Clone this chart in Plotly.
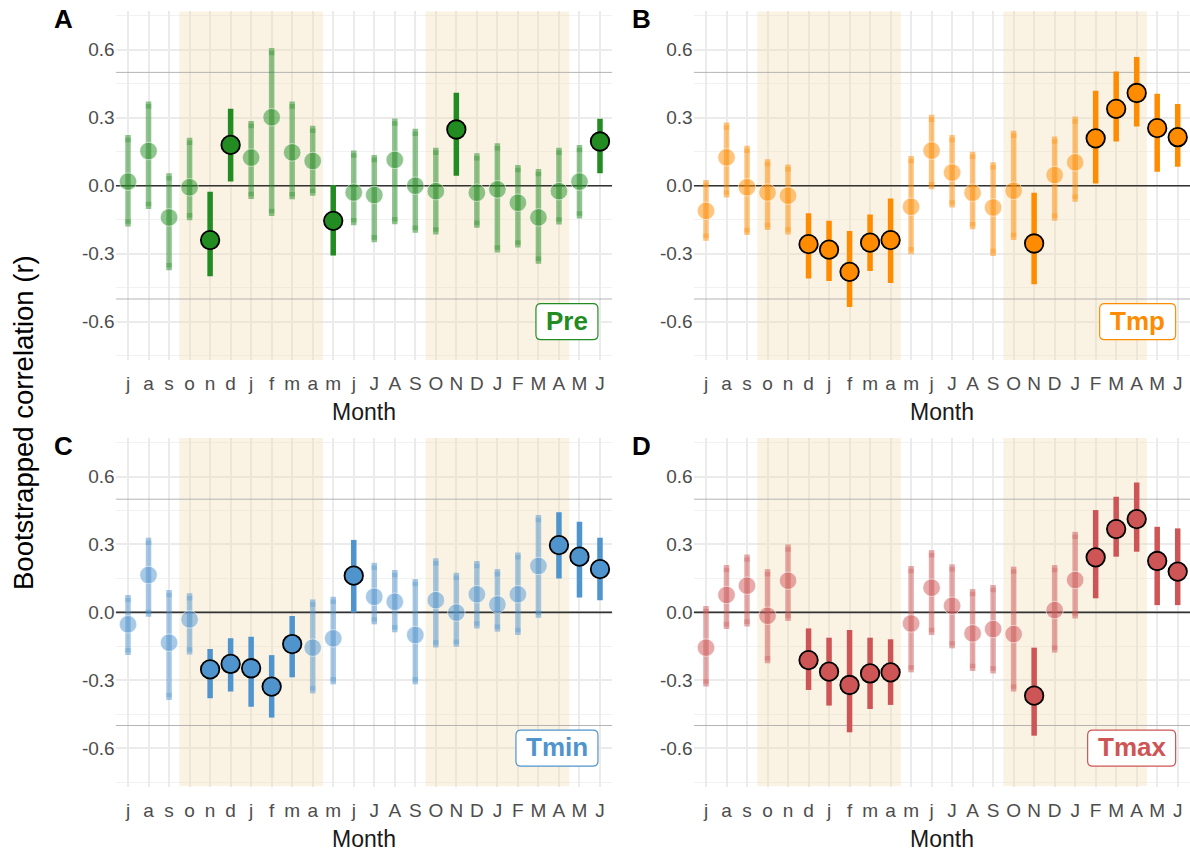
import plotly.graph_objects as go

months = ["j", "a", "s", "o", "n", "d", "j", "f", "m", "a", "m", "j",
          "J", "A", "S", "O", "N", "D", "J", "F", "M", "A", "M", "J"]
# growing seasons (first and last month index, inclusive): o..a and O..A
seasons = [(3, 9), (15, 21)]

pre_r = [0.018, 0.153, -0.14, -0.007, -0.24, 0.18, 0.124, 0.302, 0.147, 0.109, -0.155, -0.03,
         -0.041, 0.114, 0.0, -0.024, 0.248, -0.031, -0.016, -0.075, -0.14, -0.024, 0.018, 0.195]
pre_lo = [-0.18, -0.103, -0.373, -0.152, -0.40, 0.018, -0.059, -0.134, -0.06, -0.044, -0.308, -0.174,
          -0.25, -0.17, -0.208, -0.215, 0.044, -0.186, -0.295, -0.273, -0.344, -0.171, -0.145, 0.055]
pre_hi = [0.224, 0.372, 0.055, 0.212, -0.027, 0.339, 0.286, 0.608, 0.372, 0.264, 0.003, 0.155,
          0.136, 0.296, 0.251, 0.168, 0.41, 0.143, 0.187, 0.091, 0.074, 0.168, 0.18, 0.295]
pre_sig = [0, 0, 0, 0, 1, 1, 0, 0, 0, 0, 1, 0, 0, 0, 0, 0, 1, 0, 0, 0, 0, 0, 0, 1]

tmp_r = [-0.111, 0.125, -0.007, -0.03, -0.044, -0.258, -0.282, -0.38, -0.251, -0.24, -0.093, 0.155,
         0.058, -0.031, -0.096, -0.022, -0.255, 0.047, 0.103, 0.209, 0.339, 0.409, 0.254, 0.214]
tmp_lo = [-0.243, -0.052, -0.218, -0.196, -0.215, -0.41, -0.42, -0.535, -0.376, -0.429, -0.302, -0.016,
          -0.096, -0.192, -0.31, -0.24, -0.435, -0.155, -0.071, 0.01, 0.195, 0.261, 0.062, 0.084]
tmp_hi = [0.025, 0.279, 0.176, 0.117, 0.094, -0.122, -0.155, -0.2, -0.127, -0.056, 0.131, 0.313,
          0.224, 0.15, 0.103, 0.242, -0.031, 0.217, 0.305, 0.419, 0.504, 0.568, 0.406, 0.361]
tmp_sig = [0, 0, 0, 0, 0, 1, 1, 1, 1, 1, 0, 0, 0, 0, 0, 0, 1, 0, 0, 1, 1, 1, 1, 1]

tmin_r = [-0.053, 0.165, -0.134, -0.031, -0.252, -0.228, -0.247, -0.328, -0.14, -0.156, -0.115, 0.162,
          0.069, 0.047, -0.1, 0.054, -0.001, 0.08, 0.035, 0.08, 0.205, 0.297, 0.246, 0.191]
tmin_lo = [-0.189, -0.019, -0.387, -0.186, -0.38, -0.35, -0.417, -0.465, -0.287, -0.358, -0.318, -0.001,
           -0.053, -0.088, -0.318, -0.155, -0.152, -0.071, -0.085, -0.1, -0.024, 0.15, 0.066, 0.054]
tmin_hi = [0.077, 0.33, 0.099, 0.084, -0.162, -0.115, -0.108, -0.189, -0.016, 0.057, 0.069, 0.32,
           0.219, 0.187, 0.147, 0.239, 0.175, 0.227, 0.191, 0.265, 0.43, 0.442, 0.4, 0.33]
tmin_sig = [0, 0, 0, 0, 1, 1, 1, 1, 1, 0, 0, 1, 0, 0, 0, 0, 0, 0, 0, 0, 0, 1, 1, 1]

tmax_r = [-0.156, 0.077, 0.118, -0.015, 0.14, -0.211, -0.262, -0.321, -0.27, -0.265, -0.049, 0.109,
          0.029, -0.093, -0.074, -0.096, -0.368, 0.01, 0.143, 0.243, 0.368, 0.412, 0.227, 0.18]
tmax_lo = [-0.328, -0.074, -0.063, -0.225, -0.038, -0.343, -0.412, -0.53, -0.427, -0.409, -0.265, -0.1,
           -0.159, -0.259, -0.27, -0.35, -0.545, -0.178, -0.027, 0.062, 0.246, 0.268, 0.032, 0.032]
tmax_hi = [0.028, 0.209, 0.256, 0.191, 0.3, -0.071, -0.112, -0.078, -0.112, -0.119, 0.205, 0.275,
           0.212, 0.103, 0.121, 0.202, -0.156, 0.209, 0.356, 0.452, 0.511, 0.574, 0.378, 0.371]
tmax_sig = [0, 0, 0, 0, 0, 1, 1, 1, 1, 1, 0, 0, 0, 0, 0, 0, 1, 0, 0, 1, 1, 1, 1, 1]

panels = [
    dict(name="Pre", letter="A", color=(34, 139, 34), r=pre_r, lo=pre_lo, hi=pre_hi, sig=pre_sig),
    dict(name="Tmp", letter="B", color=(255, 140, 0), r=tmp_r, lo=tmp_lo, hi=tmp_hi, sig=tmp_sig),
    dict(name="Tmin", letter="C", color=(79, 148, 205), r=tmin_r, lo=tmin_lo, hi=tmin_hi, sig=tmin_sig),
    dict(name="Tmax", letter="D", color=(205, 85, 85), r=tmax_r, lo=tmax_lo, hi=tmax_hi, sig=tmax_sig),
]

W, H = 1190, 854
x_domains = [[115.7 / W, 612.3 / W], [693.7 / W, 1.0]]
y_px = [(11.2, 360.2), (438.1, 786.6)]
y_domains = [[1 - b / H, 1 - t / H] for t, b in y_px]
YR = [-0.77, 0.77]
XR = [-0.6, len(months) - 0.4]

FONT = "Liberation Sans, Arial, Helvetica, sans-serif"
fig = go.Figure()
xs = list(range(len(months)))


def rgba(c, a):
    return f"rgba({c[0]},{c[1]},{c[2]},{a})"


for k, p in enumerate(panels):
    ax = "" if k == 0 else str(k + 1)
    xref, yref = "x" + ax, "y" + ax
    c = p["color"]
    col, row = k % 2, k // 2
    common = dict(xaxis=xref, yaxis=yref, hoverinfo="skip", showlegend=False)

    # growing season shading (drawn above the grid, below the data)
    for s0, s1 in seasons:
        fig.add_trace(go.Scatter(x=[s0 - 0.5, s1 + 0.5, s1 + 0.5, s0 - 0.5, s0 - 0.5],
                                 y=[YR[0], YR[0], YR[1], YR[1], YR[0]], mode="lines", fill="toself",
                                 fillcolor="rgba(240,222,180,0.36)", line=dict(width=0), **common))
    # reference lines
    for yv, lc, lw in [(0.5, "#ABABAB", 0.9), (-0.5, "#ABABAB", 0.9), (0.0, "#333333", 1.6)]:
        fig.add_trace(go.Scatter(x=XR, y=[yv, yv], mode="lines", line=dict(color=lc, width=lw), **common))

    lx, ly, bx, by, sx, sy = [], [], [], [], [], []
    for i in xs:
        if p["sig"][i]:
            sx += [i, i, None]
            sy += [p["lo"][i], p["hi"][i], None]
        else:
            lx += [i, i, None]
            ly += [p["lo"][i], p["hi"][i], None]
            bx += [i, i, None, i, i, None]
            by += [p["hi"][i] - 0.012, p["hi"][i] - 0.032, None,
                   p["lo"][i] + 0.012, p["lo"][i] + 0.032, None]
    fig.add_trace(go.Scatter(x=lx, y=ly, mode="lines", line=dict(color=rgba(c, 0.5), width=5.5), **common))
    fig.add_trace(go.Scatter(x=bx, y=by, mode="lines", line=dict(color=rgba(c, 0.35), width=5.5), **common))
    fig.add_trace(go.Scatter(x=sx, y=sy, mode="lines", line=dict(color=rgba(c, 1), width=5.5), **common))
    nx = [i for i in xs if not p["sig"][i]]
    fig.add_trace(go.Scatter(x=nx, y=[p["r"][i] for i in nx], mode="markers",
                             marker=dict(size=17.5, color=rgba(c, 0.5),
                                         line=dict(color="rgba(255,255,255,0.55)", width=1)), **common))
    sxx = [i for i in xs if p["sig"][i]]
    fig.add_trace(go.Scatter(x=sxx, y=[p["r"][i] for i in sxx], mode="markers",
                             marker=dict(size=18.5, color=rgba(c, 1), line=dict(color="black", width=1.8)),
                             **common))

    xa = dict(domain=x_domains[col], anchor=yref, range=XR, tickmode="array",
              tickvals=xs, ticktext=months, showgrid=True, gridcolor="#EBEBEB", gridwidth=1.6,
              zeroline=False, showline=False, ticks="", ticklabelstandoff=10,
              tickfont=dict(family=FONT, size=19, color="#4D4D4D"))
    ya = dict(domain=y_domains[row], anchor=xref, range=YR, tickmode="array",
              tickvals=[-0.6, -0.3, 0, 0.3, 0.6], ticktext=["-0.6", "-0.3", "0.0", "0.3", "0.6"],
              showgrid=True, gridcolor="#EBEBEB", gridwidth=1.6, zeroline=False, showline=False,
              ticks="", ticklabelstandoff=0,
              tickfont=dict(family=FONT, size=19, color="#4D4D4D"),
              minor=dict(tickmode="array", tickvals=[-0.75, -0.45, -0.15, 0.15, 0.45, 0.75],
                         showgrid=True, gridcolor="#F1F1F1", gridwidth=0.9))
    fig.layout["xaxis" + ax] = xa
    fig.layout["yaxis" + ax] = ya

    # variable label box with rounded corners
    c_hex = rgba(c, 1)
    bw = {"Pre": 62, "Tmp": 76, "Tmin": 82, "Tmax": 88}[p["name"]]
    rr = 5
    path = (f"M {-bw + rr},-18 L {-rr},-18 Q 0,-18 0,{-18 + rr} L 0,{18 - rr} Q 0,18 {-rr},18 "
            f"L {-bw + rr},18 Q {-bw},18 {-bw},{18 - rr} L {-bw},{-18 + rr} Q {-bw},-18 {-bw + rr},-18 Z")
    fig.add_shape(type="path", xref=xref, yref=yref, xsizemode="pixel", ysizemode="pixel",
                  xanchor=22.9, yanchor=-0.6, path=path, fillcolor="white",
                  line=dict(color=c_hex, width=1.2), layer="above")
    fig.add_annotation(x=22.9, y=-0.6, xref=xref, yref=yref, xanchor="center", yanchor="middle",
                       xshift=-bw / 2, yshift=1, text="<b>%s</b>" % p["name"], showarrow=False,
                       font=dict(family=FONT, size=26, color=c_hex))

    # panel letter
    fig.add_annotation(x=(63 if col == 0 else 641) / W, y=1 - (19 if row == 0 else 446) / H,
                       xref="paper", yref="paper", text="<b>%s</b>" % p["letter"], showarrow=False,
                       xanchor="center", yanchor="middle", font=dict(family=FONT, size=26, color="black"))
    # x-axis title
    xc = (x_domains[col][0] + x_domains[col][1]) / 2
    fig.add_annotation(x=xc, y=1 - (y_px[row][1] + 52) / H, xref="paper", yref="paper", text="Month",
                       showarrow=False, xanchor="center", yanchor="middle",
                       font=dict(family=FONT, size=23, color="#1a1a1a"))

fig.add_annotation(x=23 / W, y=1 - 423 / H, xref="paper", yref="paper", text="Bootstrapped correlation (r)",
                   textangle=-90, showarrow=False, xanchor="center", yanchor="middle",
                   font=dict(family=FONT, size=27.5, color="black"))

fig.update_layout(width=W, height=H, margin=dict(l=0, r=0, t=0, b=0),
                  plot_bgcolor="white", paper_bgcolor="white", showlegend=False)

fig.write_html("out.html")
